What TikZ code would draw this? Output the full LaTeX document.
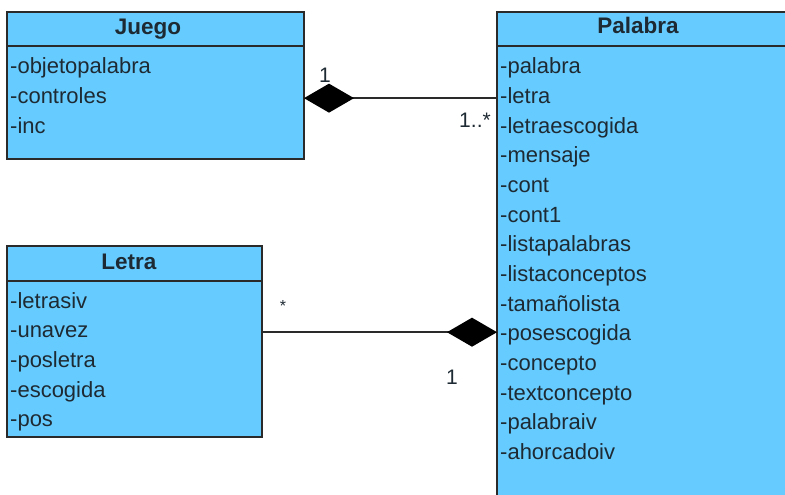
\documentclass[tikz,border=0pt]{standalone}
\usepackage{fontspec}
\setmainfont{Liberation Sans}
\usetikzlibrary{arrows.meta}
\definecolor{classfill}{HTML}{66CCFF}
\definecolor{ink}{HTML}{1E2A33}
\definecolor{edge}{HTML}{2A2A2A}
\begin{document}
\begin{tikzpicture}[x=1pt,y=-1pt,
  box/.style={draw=edge, line width=1.8pt, fill=classfill, anchor=north west, inner sep=0pt, outer sep=0pt},
  title/.style={font=\fontsize{22.5}{26}\selectfont\bfseries, text=ink, anchor=base, inner sep=0pt},
  attr/.style={font=\fontsize{22}{26}\selectfont, text=ink, anchor=base west, inner sep=0pt, text height=16pt, text depth=5pt},
  mult/.style={font=\fontsize{21}{24}\selectfont, text=ink, inner sep=0pt},
  comp/.style={draw=edge, line width=1.8pt, {Diamond[length=50pt,width=29pt,fill=black,color=black]}-}
]
\clip (0,0) rectangle (785,495);
\fill[white] (0,0) rectangle (785,495);

% class Juego
\node[box, minimum width=297pt, minimum height=34pt] (juegoHead) at (7,12) {};
\node[box, minimum width=297pt, minimum height=113pt] (juegoBody) at (7,46) {};
\node[title] (juegoTitle) at (148,35) {Juego};
\foreach \t [count=\i] in {objetopalabra,controles,inc}
  \node[attr] (j\i) at ({10},{74+29.65*(\i-1)}) {-\t};

% class Palabra
\node[box, minimum width=300pt, minimum height=34pt] (palabraHead) at (497,12) {};
\node[box, minimum width=300pt, minimum height=480pt] (palabraBody) at (497,46) {};
\node[title] (palabraTitle) at (638,34) {Palabra};
\foreach \t [count=\i] in {palabra,letra,letraescogida,mensaje,cont,cont1,listapalabras,listaconceptos,tamañolista,posescogida,concepto,textconcepto,palabraiv,ahorcadoiv}
  \node[attr] (p\i) at ({500},{74+29.65*(\i-1)}) {-\t};

% class Letra
\node[box, minimum width=255pt, minimum height=35pt] (letraHead) at (7,246) {};
\node[box, minimum width=255pt, minimum height=156pt] (letraBody) at (7,281) {};
\node[title] (letraTitle) at (129,269) {Letra};
\foreach \t [count=\i] in {letrasiv,unavez,posletra,escogida,pos}
  \node[attr] (l\i) at ({10},{308+29.7*(\i-1)}) {-\t};

% compositions
\draw[comp] (juegoBody.east |- j2.center) -- (palabraBody.west |- j2.center);
\draw[comp] (palabraBody.west |- l2.center) -- (letraBody.east |- l2.center);

% multiplicities
\node[mult] (m1) at (325,75) {1};
\node[mult] (m2) at (475,120) {1..*};
\node[mult, font=\fontsize{16}{18}\selectfont] (m3) at (283,306) {*};
\node[mult] (m4) at (452,377) {1};
\end{tikzpicture}
\end{document}
